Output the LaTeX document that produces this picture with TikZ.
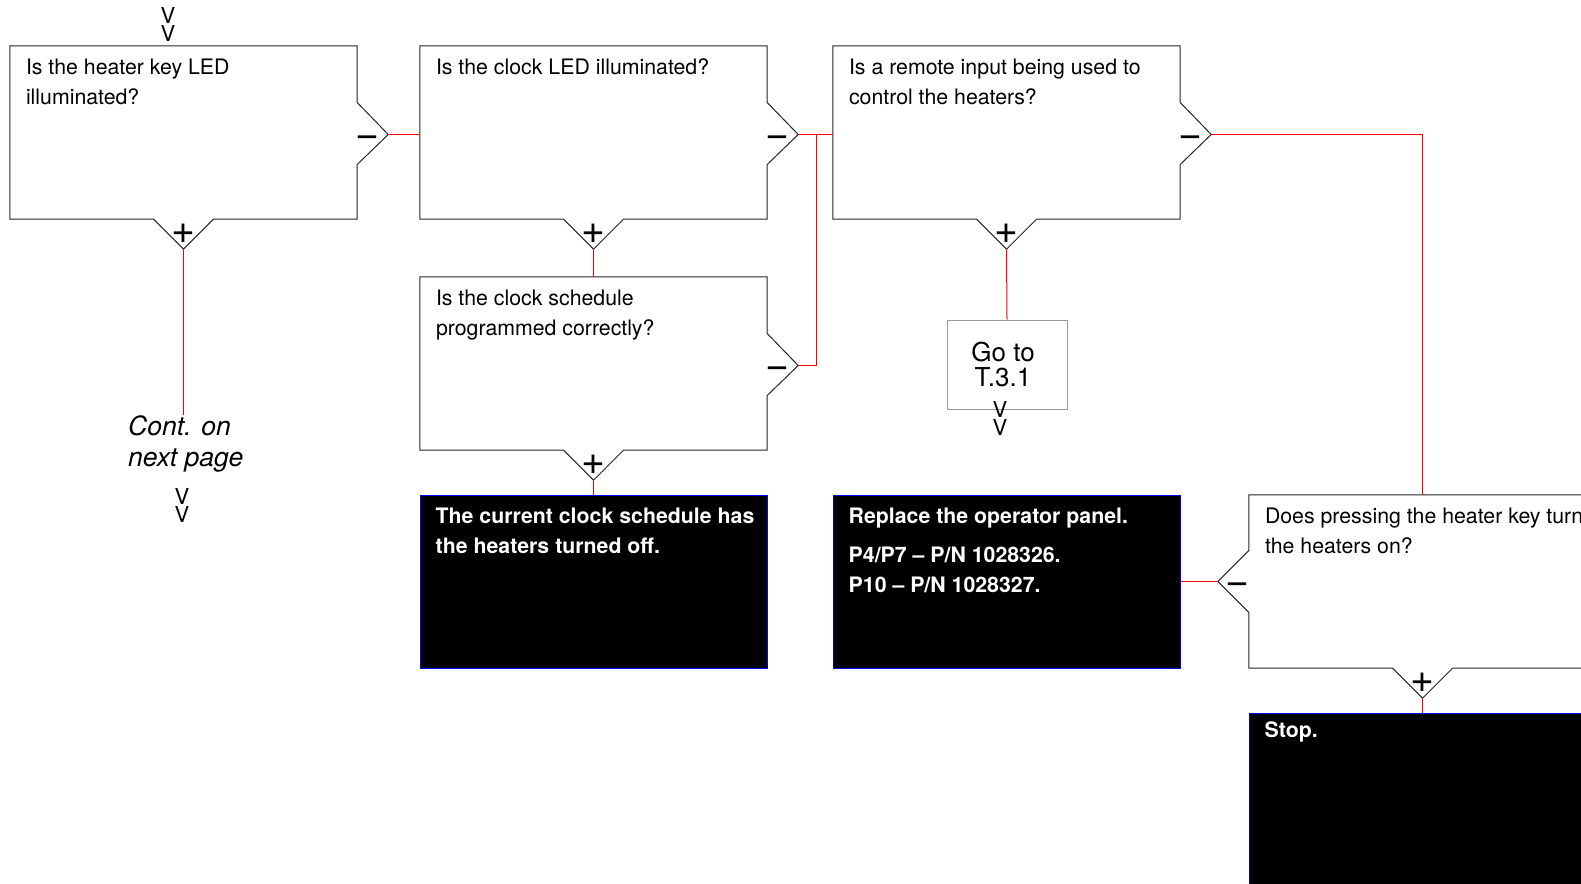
\documentclass[tikz,border=0pt]{standalone}
\usepackage{fontspec}
\setmainfont{TeX Gyre Heros}
\usetikzlibrary{calc, positioning}

% question box with its "no" notch on the right
\newcommand{\qright}[1]{%
  \draw[qline] (#1.north west) -- (#1.north east) -- ($(#1.east)+(0,-30)$)
    -- ($(#1.east)+(31,2)$) coordinate (#1-no) -- ($(#1.east)+(0,32)$)
    -- (#1.south east) -- ($(#1.south)+(30,0)$)
    -- ($(#1.south)+(0,30)$) coordinate (#1-yes) -- ($(#1.south)+(-30,0)$)
    -- (#1.south west) -- cycle;
  \node[sign] (#1-minus) at ($(#1.east)+(10,9)$) {−};
  \node[sign] (#1-plus) at ($(#1.south)+(0,15)$) {+};
}
% question box with its "no" notch on the left
\newcommand{\qleft}[1]{%
  \draw[qline] (#1.north west) -- (#1.north east) -- (#1.south east)
    -- ($(#1.south)+(30,0)$) -- ($(#1.south)+(0,30)$) coordinate (#1-yes)
    -- ($(#1.south)+(-30,0)$) -- (#1.south west) -- ($(#1.west)+(0,31)$)
    -- ($(#1.west)+(-31,0)$) coordinate (#1-no) -- ($(#1.west)+(0,-31)$) -- cycle;
  \node[sign] (#1-minus) at ($(#1.west)+(-11,7)$) {−};
  \node[sign] (#1-plus) at ($(#1.south)+(0,15)$) {+};
}

\begin{document}
\begin{tikzpicture}[x=1pt, y=-1pt,
  qbox/.style={rectangle, inner sep=0, minimum width=347pt, minimum height=173pt},
  qline/.style={black!85, line width=1pt},
  qtext/.style={anchor=north west, inner sep=0, align=left, font=\fontsize{21.3}{30}\selectfont},
  ans/.style={qbox, fill=black, draw=blue, line width=1pt},
  anstext/.style={qtext, text=white, font=\fontsize{21.3}{30}\selectfont\bfseries},
  sign/.style={inner sep=0, font=\fontsize{41}{41}\selectfont},
  chev/.style={inner sep=0, align=center, font=\fontsize{22}{18.5}\selectfont},
  yesno/.style={red, line width=1pt}]
\clip (0,0) rectangle (1581,883);

% boxes
\node[qbox] (heater) at (183.5,132.5) {};
\node[qbox] (clockled) at (593.5,132.5) {};
\node[qbox] (sched) at (593.5,363.5) {};
\node[qbox] (remote) at (1006.5,132.5) {};
\node[qbox] (turnon) at (1422.5,581.5) {};
\node[ans] (off) at (593.5,581.5) {};
\node[ans] (panel) at (1006.5,581.5) {};
\node[ans] (stop) at (1422.5,799.5) {};
\node[draw=gray!80, line width=1pt, minimum width=120pt, minimum height=89pt, inner sep=0] (goto) at (1007,364.5) {};
\node[align=center, inner sep=0, font=\fontsize{26}{25}\selectfont] (goto-t) at (1003,364) {Go to\\T.3.1};

\qright{heater}
\qright{clockled}
\qright{sched}
\qright{remote}
\qleft{turnon}

% texts
\node[qtext] (heater-q) at ($(heater.north west)+(16,13)$) {Is the heater key LED\\illuminated?};
\node[qtext] (clockled-q) at ($(clockled.north west)+(16,13)$) {Is the clock LED illuminated?};
\node[qtext] (sched-q) at ($(sched.north west)+(16,13)$) {Is the clock schedule\\programmed correctly?};
\node[qtext] (remote-q) at ($(remote.north west)+(16,13)$) {Is a remote input being used to\\control the heaters?};
\node[qtext] (turnon-q) at ($(turnon.north west)+(16,13)$) {Does pressing the heater key turn\\the heaters on?};
\node[anstext] (off-a) at ($(off.north west)+(16,13)$) {The current clock schedule has\\the heaters turned off.};
\node[anstext] (panel-a) at ($(panel.north west)+(16,13)$) {Replace the operator panel.\\[9.6pt]P4/P7 – P/N 1028326.\\P10 – P/N 1028327.};
\node[anstext] (stop-a) at ($(stop.north west)+(16,9)$) {Stop.};
\node[anchor=north west, inner sep=0, align=left, font=\fontsize{26.5}{31}\selectfont\itshape] (cont) at (128,415) {Cont. on\\next page};

% page links
\node[chev] (in) at (168,24.5) {V\\V};
\node[chev] (goto-out) at (1000,418.5) {V\\V};
\node[chev] (cont-out) at (182,505.5) {V\\V};

% connections
\coordinate (jct) at (816,134.5);
\draw[yesno] (heater-no) -- (heater-no -| clockled.west);
\draw[yesno] (heater-yes) -- (heater-yes |- cont.north);
\draw[yesno] (clockled-yes) -- (sched.north);
\draw[yesno] (clockled-no) -- (clockled-no -| remote.west);
\draw[yesno] (sched-no) -| (jct);
\draw[yesno] (sched-yes) -- (off.north);
\draw[yesno] (remote-yes) -- (goto.north);
\draw[yesno] (remote-no) -| (turnon.north);
\draw[yesno] (turnon-no) -- (panel.east);
\draw[yesno] (turnon-yes) -- (stop.north);
\end{tikzpicture}
\end{document}
